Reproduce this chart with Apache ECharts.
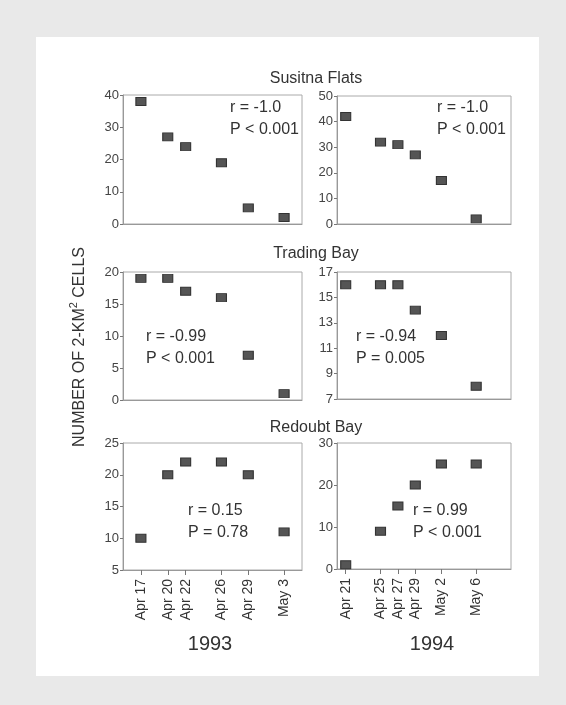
<!DOCTYPE html>
<html><head><meta charset="utf-8">
<script src="https://cdn.jsdelivr.net/npm/echarts@6/dist/echarts.min.js"></script>
<style>html,body{margin:0;padding:0;background:#e9e9e9}#c{width:566px;height:705px}</style>
</head><body><div id="c"></div>
<script>
// ---- data ----
const dates1993 = ['Apr 17','Apr 20','Apr 22','Apr 26','Apr 29','May 3'];
const dates1994 = ['Apr 21','Apr 25','Apr 27','Apr 29','May 2','May 6'];
const susitna1993 = [38,27,24,19,5,2];
const susitna1994 = [42,32,31,27,17,2];
const trading1993 = [19,19,17,16,7,1];
const trading1994 = [16,16,16,14,12,8];
const redoubt1993 = [10,20,22,22,20,11];
const redoubt1994 = [1,9,15,20,25,25];
const panelTitles = ['Susitna Flats','Trading Bay','Redoubt Bay'];
const yearLabels = ['1993','1994'];
const stats = [
  ['r = -1.0','P < 0.001'], ['r = -1.0','P < 0.001'],
  ['r = -0.99','P < 0.001'], ['r = -0.94','P = 0.005'],
  ['r = 0.15','P = 0.78'], ['r = 0.99','P < 0.001']
];
// y axis ranges [min,max,interval]
const yRanges = [[0,40,10],[0,50,10],[0,20,5],[7,17,2],[5,25,5],[0,30,10]];
// x axis date ranges
const xRange1993 = ['Apr 15','May 5'];
const xRange1994 = ['Apr 20','May 10'];

// ---- helpers ----
function dayNum(s){ const [m,d]=s.split(' '); return (m==='May'?30:0)+Number(d); }
const FONT = 'Liberation Sans, Arial, sans-serif';
const TXT = '#333';

const series1993 = [susitna1993, trading1993, redoubt1993];
const series1994 = [susitna1994, trading1994, redoubt1994];

const grids = [
  {left:123, top:95, width:179, height:129},
  {left:337, top:96, width:174, height:128},
  {left:123, top:272, width:179, height:128},
  {left:337, top:272, width:174, height:127},
  {left:123, top:443, width:179, height:127},
  {left:337, top:443, width:174, height:126}
];

const xAxis=[], yAxis=[], series=[];
for(let i=0;i<6;i++){
  const col = i%2, row = Math.floor(i/2);
  const dates = col===0?dates1993:dates1994;
  const rng = col===0?xRange1993:xRange1994;
  const vals = col===0?series1993[row]:series1994[row];
  const ticks = dates.map(dayNum);
  const bottom = row===2;
  xAxis.push({
    type:'value', gridIndex:i, min:dayNum(rng[0]), max:dayNum(rng[1]),
    axisLine:{show:true, lineStyle:{color:'#999', width:1}},
    splitLine:{show:false},
    axisTick:{show:bottom, customValues:ticks, length:5, lineStyle:{color:'#777'}},
    axisLabel:{show:bottom, customValues:ticks, rotate:90, margin:9,
      fontSize:14, fontFamily:FONT, color:TXT,
      formatter:function(v){ const k=ticks.indexOf(v); return k>=0?dates[k]:''; }}
  });
  const yr = yRanges[i];
  yAxis.push({
    type:'value', gridIndex:i, min:yr[0], max:yr[1], interval:yr[2],
    axisLine:{show:true, lineStyle:{color:'#999', width:1}},
    splitLine:{show:false},
    axisTick:{show:true, length:3, lineStyle:{color:'#777'}},
    axisLabel:{margin:4, fontSize:13, fontFamily:FONT, color:'#444'}
  });
  series.push({
    type:'scatter', xAxisIndex:i, yAxisIndex:i,
    symbol:'rect', symbolSize:[10,8],
    itemStyle:{color:'#555', borderColor:'#333', borderWidth:1, opacity:1},
    data: dates.map((d,k)=>[dayNum(d), vals[k]]),
    silent:true
  });
}

const statPos = [[230,108],[437,108],[146,337],[356,337],[188,511],[413,511]];
const graphic = [
  {type:'rect', shape:{x:36,y:37,width:503,height:639}, style:{fill:'#fff'}, z:-10}
];
const titleY = [79,254,428];
panelTitles.forEach((t,k)=>graphic.push({type:'text', x:316, y:titleY[k],
  style:{text:t, font:'16px '+FONT, fill:TXT, align:'center', verticalAlign:'middle'}}));
stats.forEach((s,k)=>{
  graphic.push({type:'text', x:statPos[k][0], y:statPos[k][1],
    style:{text:s[0], font:'16px '+FONT, fill:TXT, align:'left', verticalAlign:'middle'}});
  graphic.push({type:'text', x:statPos[k][0], y:statPos[k][1]+22,
    style:{text:s[1], font:'16px '+FONT, fill:TXT, align:'left', verticalAlign:'middle'}});
});
graphic.push({type:'text', x:210, y:644, style:{text:yearLabels[0], font:'20px '+FONT, fill:TXT, align:'center', verticalAlign:'middle'}});
graphic.push({type:'text', x:432, y:644, style:{text:yearLabels[1], font:'20px '+FONT, fill:TXT, align:'center', verticalAlign:'middle'}});
graphic.push({type:'text', x:78, y:347, rotation:Math.PI/2,
  style:{text:'{a|NUMBER OF 2-KM}{s|2}{a| CELLS}', align:'center', verticalAlign:'middle',
    rich:{a:{font:'16px '+FONT, fill:TXT, color:TXT, lineHeight:20, verticalAlign:'bottom'},
          s:{font:'11px '+FONT, fill:TXT, color:TXT, lineHeight:20, verticalAlign:'top', padding:[0,0,8,0]}}}});

const chart = echarts.init(document.getElementById('c'), null, {renderer:'canvas'});
chart.setOption({
  backgroundColor:'#e9e9e9',
  animation:false,
  grid: grids.map(g=>Object.assign({show:true, borderColor:'#aaa', borderWidth:1, backgroundColor:'transparent'}, g)),
  xAxis, yAxis, series, graphic
});
</script></body></html>
